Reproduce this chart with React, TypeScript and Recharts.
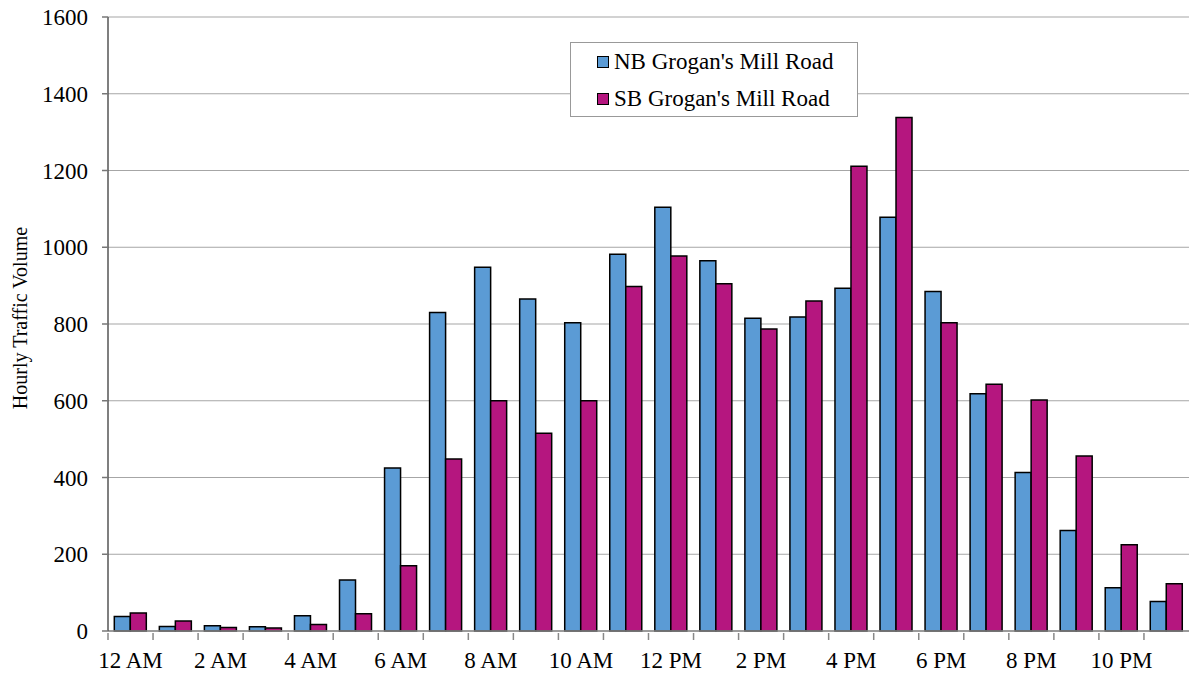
import React from 'react';
import { BarChart, Bar, XAxis, YAxis, CartesianGrid, Legend } from 'recharts';

const HOURS = [
    '12 AM', '1 AM', '2 AM', '3 AM', '4 AM', '5 AM', '6 AM', '7 AM', '8 AM', '9 AM', '10 AM', '11 AM',
    '12 PM', '1 PM', '2 PM', '3 PM', '4 PM', '5 PM', '6 PM', '7 PM', '8 PM', '9 PM', '10 PM', '11 PM',
];

const NB_VOLUME = [38, 12, 14, 11, 40, 133, 425, 830, 948, 865, 803, 982, 1104, 965, 815, 818, 893, 1078, 885, 618, 413, 262, 113, 77];
const SB_VOLUME = [47, 26, 9, 8, 17, 45, 170, 448, 600, 515, 600, 898, 977, 905, 787, 860, 1211, 1338, 803, 643, 602, 456, 225, 123];

const Y_TICKS = [0, 200, 400, 600, 800, 1000, 1200, 1400, 1600];

const SERIES = [
    { key: 'nb', name: "NB Grogan's Mill Road", color: '#5b9bd5' },
    { key: 'sb', name: "SB Grogan's Mill Road", color: '#b5167f' },
];

const FONT = '"Liberation Serif", "Times New Roman", serif';

const data = HOURS.map((hour, i) => ({ hour, nb: NB_VOLUME[i], sb: SB_VOLUME[i] }));

// tick marks sit between categories, labels on every other hour
const XTick = (props: any) => {
    const { x, y, payload, index } = props;
    const half = payload?.offset ?? 22.5;
    const left = x - half;
    return (
        <g>
            <line x1={left} x2={left} y1={y} y2={y + 7} stroke="#888" strokeWidth={1.5} />
            {index % 2 === 0 && (
                <text x={x} y={y + 35} textAnchor="middle" fontSize={23} fontFamily={FONT} fill="#000">
                    {payload.value}
                </text>
            )}
        </g>
    );
};

const renderLegend = () => (
    <div
        style={{
            width: 288,
            height: 75,
            border: '1px solid #999',
            background: '#fff',
            fontFamily: FONT,
            fontSize: 23,
            boxSizing: 'border-box',
            paddingLeft: 26,
        }}
    >
        {SERIES.map((s) => (
            <div key={s.key} style={{ display: 'flex', alignItems: 'center', height: 37 }}>
                <span
                    style={{
                        display: 'inline-block',
                        width: 10,
                        height: 10,
                        background: s.color,
                        border: '1.5px solid #000',
                        marginRight: 5,
                    }}
                />
                <span>{s.name}</span>
            </div>
        ))}
    </div>
);

export default function App() {
    return (
        <div style={{ position: 'absolute', left: 0, top: 0, width: 1189, height: 673, background: '#fff' }}>
            <BarChart
                width={1189}
                height={673}
                data={data}
                margin={{ top: 17, right: 0, bottom: 0, left: 0 }}
                barCategoryGap="14%"
                barGap={0}
            >
                <CartesianGrid vertical={false} stroke="#a6a6a6" strokeWidth={1.2} />
                <XAxis
                    dataKey="hour"
                    interval={0}
                    tickLine={false}
                    tickSize={0}
                    tick={<XTick />}
                    height={42}
                    axisLine={{ stroke: '#888', strokeWidth: 1.5 }}
                />
                <YAxis
                    domain={[0, 1600]}
                    ticks={Y_TICKS}
                    width={108}
                    tickSize={6}
                    tickMargin={14}
                    tick={{ fill: '#000', fontSize: 23, fontFamily: FONT }}
                    tickLine={{ stroke: '#777', strokeWidth: 1.5 }}
                    axisLine={{ stroke: '#555', strokeWidth: 1.5 }}
                    label={() => (
                        <text
                            x={20}
                            y={318}
                            transform="rotate(-90 20 318)"
                            textAnchor="middle"
                            dominantBaseline="central"
                            fontSize={20}
                            fontFamily={FONT}
                            fill="#000"
                        >
                            Hourly Traffic Volume
                        </text>
                    )}
                />
                <Legend
                    layout="vertical"
                    verticalAlign="middle"
                    align="center"
                    content={renderLegend}
                    wrapperStyle={{ position: 'absolute', left: 570, top: 42, width: 288, height: 75 }}
                />
                {SERIES.map((s) => (
                    <Bar
                        key={s.key}
                        dataKey={s.key}
                        name={s.name}
                        fill={s.color}
                        stroke="#000"
                        strokeWidth={1.5}
                        isAnimationActive={false}
                    />
                ))}
            </BarChart>
        </div>
    );
}
